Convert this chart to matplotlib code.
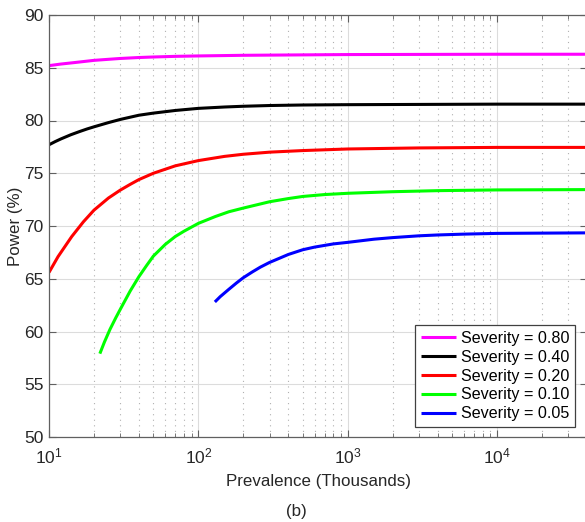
import matplotlib
matplotlib.use('Agg')
import matplotlib.pyplot as plt
from matplotlib.ticker import LogLocator, FixedLocator, NullFormatter

plt.rcParams['font.family'] = ['Liberation Sans', 'DejaVu Sans']
plt.rcParams['mathtext.fontset'] = 'custom'
plt.rcParams['mathtext.rm'] = 'Liberation Sans'
plt.rcParams['mathtext.it'] = 'Liberation Sans'

# values (prevalence in thousands, power in %)
x_080 = [10, 12, 15, 20, 25, 30, 40, 50, 70, 100, 200, 500, 1000, 10000, 40000]
y_080 = [85.2, 85.35, 85.5, 85.7, 85.8, 85.88, 85.97, 86.02, 86.08, 86.12, 86.18, 86.22, 86.25, 86.28, 86.28]

x_040 = [10, 11, 12, 14, 16, 18, 20, 25, 30, 40, 50, 70, 100, 150, 200, 300, 500, 1000, 10000, 40000]
y_040 = [77.7, 78.0, 78.25, 78.65, 78.95, 79.2, 79.4, 79.8, 80.1, 80.5, 80.7, 80.95, 81.15, 81.28,
         81.35, 81.42, 81.47, 81.5, 81.55, 81.55]

x_020 = [10, 11.5, 14.2, 17, 20, 25, 30, 35, 40, 50, 70, 100, 150, 200, 300, 500,
         1000, 3000, 10000, 40000]
y_020 = [65.6, 67.1, 69.0, 70.4, 71.5, 72.65, 73.4, 73.95, 74.4, 75.0, 75.7, 76.2, 76.6, 76.8,
         77.0, 77.15, 77.3, 77.4, 77.45, 77.45]

x_010 = [21.9, 23.5, 25.6, 28, 30, 35, 40, 45, 50, 60, 70, 80, 100, 130, 160, 200, 300, 400, 500,
         700, 1000, 2000, 4000, 10000, 40000]
y_010 = [57.9, 59.0, 60.2, 61.3, 62.1, 63.85, 65.2, 66.25, 67.15, 68.25, 69.0, 69.5, 70.25, 70.9,
         71.35, 71.7, 72.3, 72.6, 72.8, 72.98, 73.1, 73.25, 73.35, 73.42, 73.45]

x_005 = [129, 140, 160, 180, 200, 230, 260, 300, 350, 400, 500, 600, 800, 1000, 1500, 2000, 3000,
         4000, 6000, 10000, 40000]
y_005 = [62.8, 63.3, 64.0, 64.6, 65.1, 65.65, 66.1, 66.55, 66.95, 67.3, 67.75, 68.0, 68.3, 68.45,
         68.75, 68.9, 69.07, 69.15, 69.23, 69.3, 69.35]

series = [
    (x_080, y_080, '#ff00ff', 'Severity = 0.80'),
    (x_040, y_040, '#000000', 'Severity = 0.40'),
    (x_020, y_020, '#ff0000', 'Severity = 0.20'),
    (x_010, y_010, '#00ff00', 'Severity = 0.10'),
    (x_005, y_005, '#0000ff', 'Severity = 0.05'),
]

fig = plt.figure(figsize=(5.85, 5.22), dpi=100)
ax = fig.add_axes([49 / 585, 85 / 522, 538 / 585, 422 / 522])

for xs, ys, c, lab in series:
    ax.plot(xs, ys, color=c, lw=2.2, label=lab, solid_capstyle='butt', solid_joinstyle='round')

ax.set_xscale('log')
ax.set_xlim(10, 40000)
ax.set_ylim(50, 90)
ax.set_yticks(range(50, 91, 5))
ax.xaxis.set_major_locator(FixedLocator([10, 100, 1000, 10000]))
ax.xaxis.set_minor_locator(LogLocator(base=10, subs=range(2, 10), numticks=20))
ax.xaxis.set_minor_formatter(NullFormatter())

ax.grid(True, which='major', color='#dcdcdc', lw=0.8, ls='-')
ax.grid(True, which='minor', axis='x', color='#b0b0b0', lw=0.8, ls=(0, (1, 4)))
ax.set_axisbelow(True)

for s in ax.spines.values():
    s.set_color('#606060')
    s.set_linewidth(0.9)
ax.tick_params(which='both', direction='in', top=True, right=True,
               color='#606060', labelcolor='#262626', labelsize=12.5)
ax.tick_params(which='major', length=5)
ax.tick_params(which='minor', length=3)
ax.tick_params(axis='x', which='major', pad=7)
ax.tick_params(axis='y', which='major', pad=4)

ax.set_xlabel('Prevalence (Thousands)', fontsize=12.2, color='#262626', labelpad=5)
ax.set_ylabel('Power (%)', fontsize=12.2, color='#262626', labelpad=1)

leg = ax.legend(loc='lower right', bbox_to_anchor=(526 / 538, 10 / 422), borderaxespad=0,
                fontsize=11.6, handlelength=2.2, handletextpad=0.3, labelspacing=0.24,
                borderpad=0.35, fancybox=False, framealpha=1, edgecolor='#404040')
leg.get_frame().set_linewidth(0.9)

fig.text(0.506, 0.012, '(b)', fontsize=12.2, color='#262626', ha='center')

fig.savefig('out.png', dpi=100)
